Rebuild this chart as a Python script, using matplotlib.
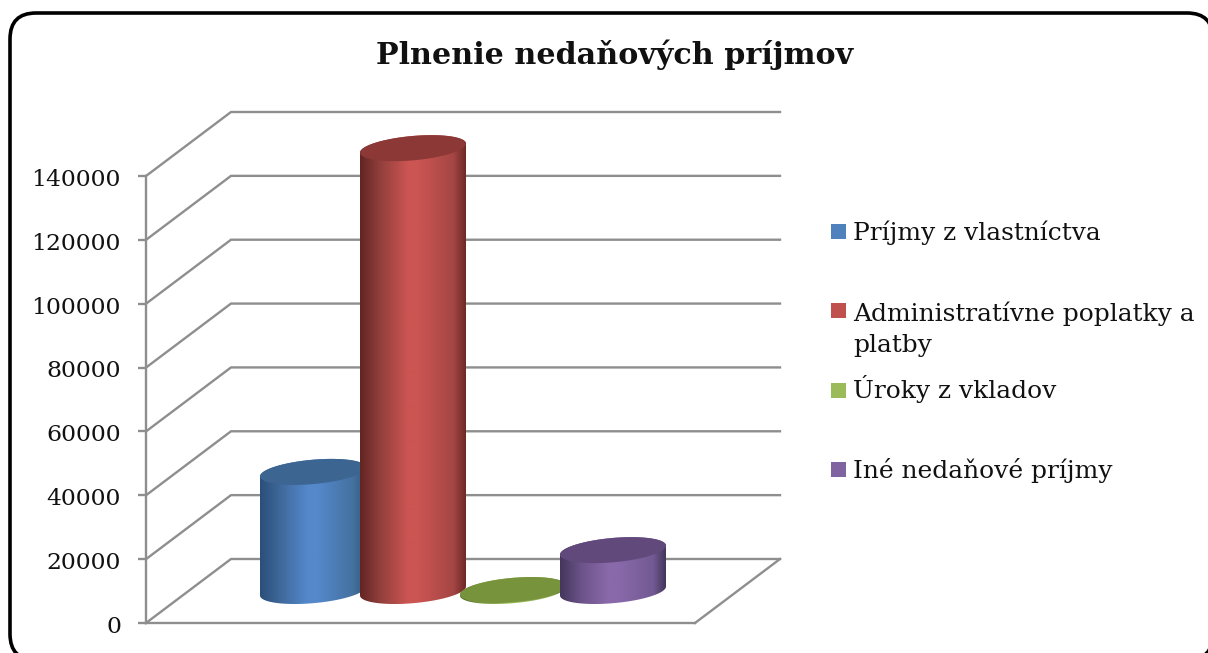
import numpy as np
import matplotlib
matplotlib.use('Agg')
import matplotlib.pyplot as plt
from matplotlib.colors import LinearSegmentedColormap
from matplotlib.patches import FancyBboxPatch, PathPatch, Rectangle
from matplotlib.path import Path
from matplotlib.transforms import IdentityTransform, ScaledTranslation

plt.rcParams['font.family'] = ['DejaVu Serif']

# data
title = 'Plnenie nedaňových príjmov'
categories = ['Príjmy z vlastníctva', 'Administratívne poplatky a\nplatby', 'Úroky z vkladov', 'Iné nedaňové príjmy']
values = [37300, 138700, 300, 12800]
y_ticks = [0, 20000, 40000, 60000, 80000, 100000, 120000, 140000]

# colours: gradient of the cylinder side (edge, shade, bright, bright, shade, edge), top cap, legend
side_colors = [
    ['#2b4f7a', '#3f6a9c', '#5488cb', '#5488cb', '#44719f', '#34587f'],
    ['#632523', '#94403d', '#cb5552', '#cb5552', '#a54644', '#6e2a28'],
    ['#4f6228', '#7f9a48', '#9bbb59', '#9bbb59', '#7f9a48', '#4f6228'],
    ['#45365c', '#6b5389', '#8969aa', '#8969aa', '#735a94', '#44365a'],
]
side_stops = [0, 0.2, 0.45, 0.55, 0.88, 1]
top_colors = ['#3c6592', '#8c3836', '#77933c', '#614a7b']
legend_colors = ['#4f81bd', '#c0504d', '#9bbb59', '#8064a2']
# pixel rows of the legend entries, spacing is uneven in the original
legend_box_top = [224, 303, 383, 462]
legend_baseline = [240, 352, 398, 478]

W, H = 1208, 653
GRID = '#8e8e8e'

fig = plt.figure(figsize=(W / 100, H / 100), dpi=100)
fig.patch.set_facecolor('white')

# outer rounded frame, runs off the right and bottom edge
fig.add_artist(FancyBboxPatch((10, H - 660), 1203, 647, boxstyle='round,pad=0,rounding_size=26',
                              transform=IdentityTransform(), fc='white', ec='black', lw=2.6, zorder=-1))

# axes rectangle is the front wall of the 3d box
ax = fig.add_axes([146 / W, (H - 623) / H, (695 - 146) / W, 447 / H])
ax.patch.set_alpha(0)
x_left, x_right = -1.245, 4.245
ax.set_xlim(x_left, x_right)
ax.set_ylim(0, 140000)

# depth of the box, in data units
px_x = (x_right - x_left) / 549
px_y = 140000 / 447
depth_x = 85 * px_x
depth_y = 64 * px_y

# walls
for v in y_ticks:
    ax.plot([x_left, x_left + depth_x, x_right + depth_x], [v, v + depth_y, v + depth_y],
            color=GRID, lw=1.7, clip_on=False, zorder=1, solid_joinstyle='miter')
ax.plot([x_right, x_right + depth_x], [0, depth_y], color=GRID, lw=1.7, clip_on=False, zorder=1)

for name in ['top', 'right']:
    ax.spines[name].set_visible(False)
for name in ['left', 'bottom']:
    ax.spines[name].set_color(GRID)
    ax.spines[name].set_linewidth(1.7)
ax.set_xticks([])
ax.set_yticks(y_ticks)
ax.tick_params(axis='y', length=6, width=1.7, color=GRID, pad=12, labelsize=16.9, labelcolor='#111111')
shift = ScaledTranslation(0, -1 / 72, fig.dpi_scale_trans)
for lab in ax.get_yticklabels():
    lab.set_transform(lab.get_transform() + shift)


# tilted ellipse of a cylinder end
def ell(cx, v, t):
    a = 53 * px_x
    b = 12.2 * px_y
    k = 4.5 * px_y
    return cx + a * np.cos(t), v + b * np.sin(t) + k * np.cos(t)


# cylinders stand in the middle of the floor
for i, v in enumerate(values):
    cx = i + depth_x / 2
    base = depth_y / 2
    t_low = np.linspace(np.pi, 2 * np.pi, 60)
    t_up = np.linspace(0, np.pi, 60)
    xb, yb = ell(cx, base, t_low)
    xt, yt = ell(cx, base + v, t_up)
    side = Path(np.column_stack([np.r_[xb, xt], np.r_[yb, yt]]))
    cmap = LinearSegmentedColormap.from_list('side%d' % i, list(zip(side_stops, side_colors[i])))
    im = ax.imshow(np.linspace(0, 1, 256)[None, :], cmap=cmap, aspect='auto', interpolation='bilinear',
                   extent=[cx - 53 * px_x, cx + 53 * px_x, base - 20 * px_y, base + v + 20 * px_y],
                   zorder=3 + i)
    im.set_clip_path(PathPatch(side, transform=ax.transData))
    im.set_clip_box(fig.bbox)
    tt = np.linspace(0, 2 * np.pi, 120)
    xc, yc = ell(cx, base + v, tt)
    ax.fill(xc, yc, color=top_colors[i], lw=0, clip_on=False, zorder=3 + i)
ax.set_xlim(x_left, x_right)
ax.set_ylim(0, 140000)

fig.text(615 / W, 1 - 55 / H, title, fontsize=21.7, fontweight='bold', ha='center', va='center', color='#111111')

for label, c, top, base_y in zip(categories, legend_colors, legend_box_top, legend_baseline):
    fig.add_artist(Rectangle((831 / W, 1 - (top + 15) / H), 15 / W, 15 / H, transform=fig.transFigure,
                             fc=c, ec='none'))
    fig.text(853 / W, 1 - base_y / H, label, fontsize=17.9, va='baseline', ha='left', color='#111111',
             linespacing=1.46)

fig.savefig('out.png', dpi=100)
